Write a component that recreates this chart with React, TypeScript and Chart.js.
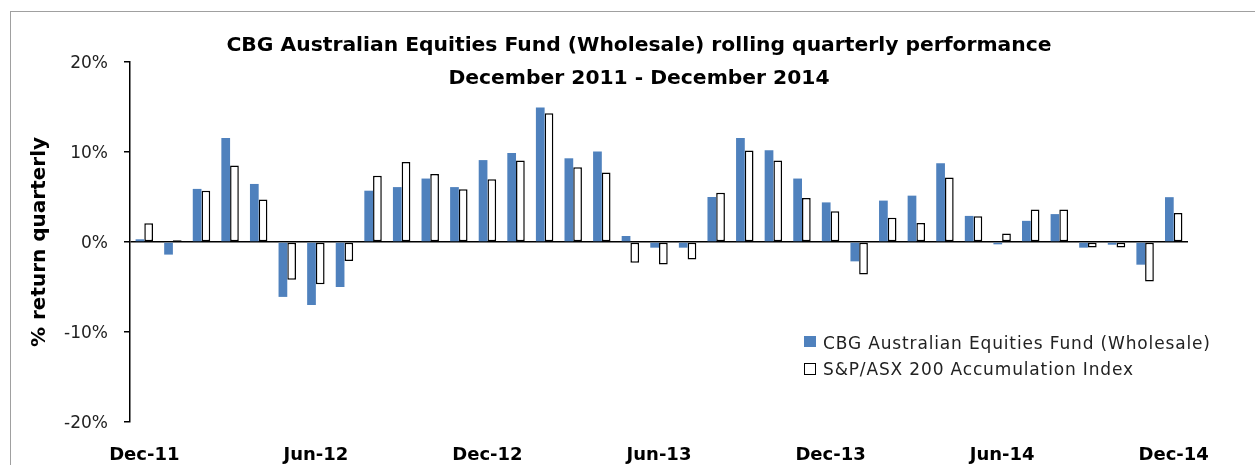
import React, { useEffect, useRef } from 'react';
import { Chart, registerables } from 'chart.js';

Chart.register(...registerables);

const months = [
  'Dec-11', 'Jan-12', 'Feb-12', 'Mar-12', 'Apr-12', 'May-12', 'Jun-12', 'Jul-12', 'Aug-12', 'Sep-12', 'Oct-12', 'Nov-12',
  'Dec-12', 'Jan-13', 'Feb-13', 'Mar-13', 'Apr-13', 'May-13', 'Jun-13', 'Jul-13', 'Aug-13', 'Sep-13', 'Oct-13', 'Nov-13',
  'Dec-13', 'Jan-14', 'Feb-14', 'Mar-14', 'Apr-14', 'May-14', 'Jun-14', 'Jul-14', 'Aug-14', 'Sep-14', 'Oct-14', 'Nov-14',
  'Dec-14',
];

const fundReturns = [
  0.3, -1.4, 5.9, 11.55, 6.45, -6.1, -7.0, -5.0, 5.7, 6.1, 7.05, 6.1,
  9.1, 9.9, 14.95, 9.3, 10.05, 0.67, -0.63, -0.63, 5.0, 11.55, 10.2, 7.05,
  4.4, -2.15, 4.6, 5.15, 8.75, 2.9, -0.26, 2.35, 3.1, -0.63, -0.3, -2.52,
  4.98,
];

const indexReturns = [
  2.08, 0.2, 5.7, 8.5, 4.72, -4.2, -4.7, -2.1, 7.35, 8.88, 7.55, 5.85,
  6.98, 9.05, 14.3, 8.3, 7.72, -2.3, -2.5, -1.95, 5.48, 10.18, 9.05, 4.9,
  3.42, -3.6, 2.7, 2.1, 7.18, 2.85, 0.95, 3.62, 3.62, -0.6, -0.6, -4.4,
  3.23,
];

const seriesNames = ['CBG Australian Equities Fund (Wholesale)', 'S&P/ASX 200 Accumulation Index'];
const titleLines = ['CBG Australian Equities Fund (Wholesale) rolling quarterly performance', 'December 2011 - December 2014'];
const yAxisTitle = '% return quarterly';
const yMin = -20;
const yMax = 20;
const yStep = 10;

const FUND_COLOR = '#4F81BD';

export default function App() {
  const ref = useRef<HTMLCanvasElement>(null);

  useEffect(() => {
    if (!ref.current) return;
    const chart = new Chart(ref.current, {
      type: 'bar',
      data: {
        labels: months,
        datasets: [
          {
            label: seriesNames[0],
            data: fundReturns,
            backgroundColor: FUND_COLOR,
            borderWidth: 0,
            categoryPercentage: 0.61,
            barPercentage: 1,
          },
          {
            label: seriesNames[1],
            data: indexReturns,
            backgroundColor: '#ffffff',
            borderColor: '#000000',
            borderWidth: 1.5,
            borderSkipped: false,
            categoryPercentage: 0.61,
            barPercentage: 1,
          },
        ],
      },
      options: {
        responsive: false,
        animation: false,
        devicePixelRatio: 1,
        layout: { padding: { left: 10, right: 67, top: 62, bottom: 0 } },
        plugins: {
          legend: { display: false },
          title: { display: false },
          tooltip: { enabled: false },
        },
        scales: {
          x: {
            offset: true,
            grid: { display: false, drawTicks: false },
            border: { display: false },
            ticks: {
              autoSkip: false,
              maxRotation: 0,
              minRotation: 0,
              padding: 23,
              color: '#000',
              font: { family: 'DejaVu Sans', size: 18, weight: 'bold' },
              callback: (_v: any, index: number) => (index % 6 === 0 ? months[index] : ''),
            },
            afterFit: (s: any) => {
              s.height = 43;
              s.paddingLeft = 0;
              s.paddingRight = 0;
            },
          },
          y: {
            min: yMin,
            max: yMax,
            ticks: {
              stepSize: yStep,
              padding: 16,
              labelOffset: 2,
              color: '#222',
              font: { family: 'DejaVu Sans', size: 17 },
              callback: (v: any) => `${v}%`,
            },
            grid: {
              color: (ctx: any) => (ctx.tick && ctx.tick.value === 0 ? '#000' : 'rgba(0,0,0,0)'),
              lineWidth: 1.5,
              tickColor: '#000',
              tickLength: 6,
              drawTicks: true,
            },
            border: { display: true, color: '#000', width: 1.5 },
            title: {
              display: true,
              text: yAxisTitle,
              color: '#000',
              font: { family: 'DejaVu Sans', size: 20, weight: 'bold' },
              padding: { top: 18, bottom: 0 },
            },
            afterFit: (s: any) => {
              s.width = 120;
              s.paddingTop = 0;
              s.paddingBottom = 0;
            },
          },
        },
      },
    });
    return () => chart.destroy();
  }, []);

  const legendText: React.CSSProperties = {
    position: 'absolute',
    left: 823,
    fontFamily: 'DejaVu Sans',
    fontSize: 17,
    lineHeight: '20px',
    letterSpacing: '0.85px',
    color: '#222',
    whiteSpace: 'nowrap',
  };

  return (
    <div style={{ position: 'fixed', left: 0, top: 0, width: 1255, height: 465, overflow: 'hidden', background: '#fff' }}>
      <div
        style={{
          position: 'absolute',
          left: 10,
          top: 11,
          width: 1300,
          height: 520,
          border: '1.5px solid #a0a0a0',
          boxSizing: 'border-box',
        }}
      />
      <canvas ref={ref} width={1255} height={465} style={{ position: 'absolute', left: 0, top: 0, width: 1255, height: 465 }} />
      <div
        style={{
          position: 'absolute',
          left: 139,
          width: 1000,
          top: 28,
          textAlign: 'center',
          fontFamily: 'DejaVu Sans',
          fontWeight: 'bold',
          fontSize: 20.3,
          lineHeight: '33px',
          color: '#000',
          whiteSpace: 'nowrap',
        }}
      >
        <div>{titleLines[0]}</div>
        <div>{titleLines[1]}</div>
      </div>
      <div style={{ position: 'absolute', left: 804, top: 336, width: 12, height: 11, background: FUND_COLOR }} />
      <div style={{ ...legendText, top: 332.5 }}>{seriesNames[0]}</div>
      <div
        style={{
          position: 'absolute',
          left: 804,
          top: 363,
          width: 12,
          height: 12,
          background: '#fff',
          border: '1.5px solid #000',
          boxSizing: 'border-box',
        }}
      />
      <div style={{ ...legendText, top: 359 }}>{seriesNames[1]}</div>
    </div>
  );
}
